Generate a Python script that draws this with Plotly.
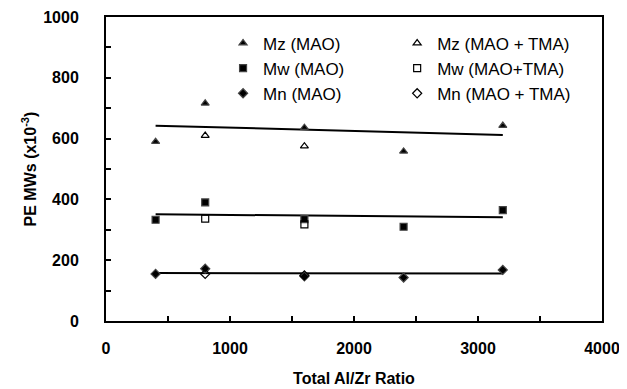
import numpy as np
import plotly.graph_objects as go

ratio = [400, 800, 1600, 2400, 3200]
mz_mao = [590, 716, 636, 558, 643]
mw_mao = [333, 390, 335, 310, 365]
mn_mao = [155, 172, 147, 143, 168]

ratio_tma = [800, 1600]
mz_tma = [610, 575]
mw_tma = [337, 318]
mn_tma = [155, 150]

FONT = "Liberation Sans, Arial, sans-serif"
fig = go.Figure()

def add(x, y, name, symbol, legend):
    fig.add_trace(go.Scatter(x=x, y=y, mode="markers", name=name, legend=legend,
                             marker=dict(symbol=symbol, size=7, color="black",
                                         line=dict(width=1.2))))

# fitted trend lines
for y in (mz_mao, mw_mao, mn_mao):
    k, b = np.polyfit(ratio, y, 1)
    xs = [min(ratio), max(ratio)]
    fig.add_trace(go.Scatter(x=xs, y=[k * v + b for v in xs], mode="lines",
                             line=dict(color="black", width=2), showlegend=False,
                             hoverinfo="skip"))

add(ratio, mz_mao, "Mz (MAO)", "triangle-up", "legend")
add(ratio, mw_mao, "Mw (MAO)", "square", "legend")
add(ratio, mn_mao, "Mn (MAO)", "diamond", "legend")
add(ratio_tma, mz_tma, "Mz (MAO + TMA)", "triangle-up-open", "legend2")
add(ratio_tma, mw_tma, "Mw (MAO+TMA)", "square-open", "legend2")
add(ratio_tma, mn_tma, "Mn (MAO + TMA)", "diamond-open", "legend2")

leg = dict(font=dict(family=FONT, size=17, color="black"), bgcolor="rgba(0,0,0,0)",
           yanchor="top", y=0.972, tracegroupgap=0, itemwidth=30)
fig.update_layout(
    width=619, height=381,
    margin=dict(l=98, r=25, t=9, b=68, autoexpand=False),
    paper_bgcolor="white", plot_bgcolor="white",
    font=dict(family=FONT, color="black"),
    legend=dict(**leg, x=0.236, xanchor="left"),
    legend2=dict(**leg, x=0.587, xanchor="left"),
    xaxis=dict(range=[0, 4000], dtick=1000, tick0=0, showgrid=False, zeroline=False,
               automargin=False,
               showline=True, linecolor="black", linewidth=2, mirror=True,
               ticks="inside", ticklen=5, tickcolor="black", tickwidth=1.5,
               minor=dict(dtick=500, ticks="inside", ticklen=5, tickcolor="black", tickwidth=1.5),
               tickfont=dict(size=16, family=FONT, weight=700),
               ticklabelstandoff=12,
               title=dict(text="<b>Total Al/Zr Ratio</b>", font=dict(size=16), standoff=17)),
    yaxis=dict(range=[0, 1000], dtick=200, tick0=0, showgrid=False, zeroline=False,
               automargin=False,
               showline=True, linecolor="black", linewidth=2, mirror=True,
               ticks="inside", ticklen=5, tickcolor="black", tickwidth=1.5,
               minor=dict(dtick=100, ticks="inside", ticklen=5, tickcolor="black", tickwidth=1.5),
               tickfont=dict(size=16, family=FONT, weight=700),
               ticklabelstandoff=22,
               title=dict(text="<b>PE MWs (x10<sup>-3</sup>)</b>", font=dict(size=16), standoff=3)),
)
fig.write_html("out.html")
